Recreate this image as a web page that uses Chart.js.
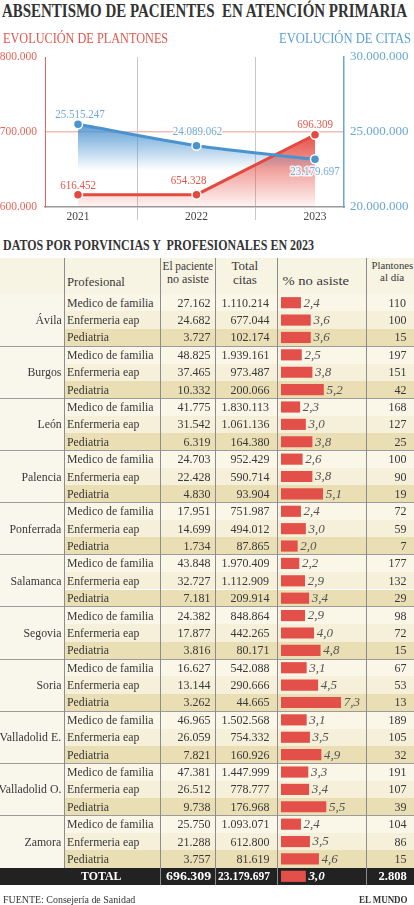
<!DOCTYPE html>
<html lang="es">
<head>
<meta charset="utf-8">
<title>Absentismo de pacientes en atención primaria</title>
<script src="https://cdn.jsdelivr.net/npm/chart.js@4.4.1/dist/chart.umd.min.js"></script>
<style>
  html, body { margin: 0; padding: 0; background: #fff; }
  #page { position: relative; width: 414px; height: 905px; overflow: hidden; font-family: "Liberation Serif", serif; color: #333; }
  .t { position: absolute; white-space: pre; z-index: 3; }
  .b { position: absolute; }
  canvas { position: absolute; z-index: 2; }
</style>
</head>
<body>
<div id="page">
  <canvas id="evolucion" width="414" height="190" style="left:0;top:40px"></canvas>
  <canvas id="barras" width="89" height="591" style="left:277px;top:294px"></canvas>
</div>
<script>
// Evolución 2021-2023
const years = [2021, 2022, 2023];
const plantones = [616452, 654328, 696309];
// en el original el punto de 2022 está dibujado a la altura de 2021
const plantonesPlot = [616452, 616452, 696309];
const citas = [25515247, 24089062, 23179697];
const ticksPlantones = [600000, 700000, 800000];
const ticksCitas = [20000000, 25000000, 30000000];

// Datos por provincias y profesionales (2023)
const provincias = ['Ávila', 'Burgos', 'León', 'Palencia', 'Ponferrada', 'Salamanca', 'Segovia', 'Soria', 'Valladolid E.', 'Valladolid O.', 'Zamora'];
const profesionales = ['Medico de familia', 'Enfermeria eap', 'Pediatria'];
const noAsiste = [27162, 24682, 3727, 48825, 37465, 10332, 41775, 31542, 6319, 24703, 22428, 4830,
  17951, 14699, 1734, 43848, 32727, 7181, 24382, 17877, 3816, 16627, 13144, 3262,
  46965, 26059, 7821, 47381, 26512, 9738, 25750, 21288, 3757];
const totalCitas = [1110214, 677044, 102174, 1939161, 973487, 200066, 1830113, 1061136, 164380, 952429, 590714, 93904,
  751987, 494012, 87865, 1970409, 1112909, 209914, 848864, 442265, 80171, 542088, 290666, 44665,
  1502568, 754332, 160926, 1447999, 778777, 176968, 1093071, 612800, 81619];
const pctNoAsiste = [2.4, 3.6, 3.6, 2.5, 3.8, 5.2, 2.3, 3.0, 3.8, 2.6, 3.8, 5.1,
  2.4, 3.0, 2.0, 2.2, 2.9, 3.4, 2.9, 4.0, 4.8, 3.1, 4.5, 7.3,
  3.1, 3.5, 4.9, 3.3, 3.4, 5.5, 2.4, 3.5, 4.6];
const plantonesDia = [110, 100, 15, 197, 151, 42, 168, 127, 25, 100, 90, 19,
  72, 59, 7, 177, 132, 29, 98, 72, 15, 67, 53, 13,
  189, 105, 32, 191, 107, 39, 104, 86, 15];
const totalNoAsiste = 696309;
const totalCitasSum = 23179697;
const totalPct = 3.0;
const totalPlantones = 2808;

const FONT = '"Liberation Serif", serif';
const fmt = n => String(n).replace(/\B(?=(\d{3})+(?!\d))/g, '.');
const dec = v => v.toFixed(1).replace('.', ',');

const page = document.getElementById('page');

function rect(x, y, w, h, bg, z) {
  const d = document.createElement('div');
  d.className = 'b';
  Object.assign(d.style, { left: x + 'px', top: y + 'px', width: w + 'px', height: h + 'px', background: bg, zIndex: z || 0 });
  page.appendChild(d);
}

// y = centro vertical
function text(str, x, y, o = {}) {
  const d = document.createElement('div');
  d.className = 't';
  d.textContent = str;
  const size = o.size || 12;
  d.style.font = `${o.style || 'normal'} ${o.weight || 'normal'} ${size}px ${FONT}`;
  d.style.lineHeight = Math.round(size * 1.2) + 'px';
  d.style.color = o.color || '#383838';
  page.appendChild(d);
  const w = d.offsetWidth, h = d.offsetHeight;
  const align = o.align || 'left';
  const left = align === 'left' ? x : align === 'right' ? x - w : x - w / 2;
  d.style.left = left + 'px';
  d.style.top = (y - h / 2) + 'px';
  const s = o.fit ? o.fit / w : 1;
  if (s !== 1) {
    d.style.transform = `scaleX(${s})`;
    d.style.transformOrigin = align === 'left' ? 'left center' : align === 'right' ? 'right center' : 'center center';
  }
}

// Títulos
text('ABSENTISMO DE PACIENTES  EN ATENCIÓN PRIMARIA', 2, 11, { size: 18.5, weight: 'bold', fit: 405, color: '#333' });
text('EVOLUCIÓN DE PLANTONES', 3, 38, { size: 15, fit: 165, color: '#e2554b' });
text('EVOLUCIÓN DE CITAS', 411, 38, { size: 15, fit: 132, align: 'right', color: '#5a9fd6' });
text('DATOS POR PORVINCIAS Y  PROFESIONALES EN 2023', 3, 245, { size: 14, weight: 'bold', fit: 311, color: '#333' });

// Tabla
const TOP = 294, HEAD = 258, ROWH = 591 / 34;
const nRows = provincias.length * profesionales.length;
const rowBg = ['#faf6e8', '#f6f0da', '#eadfb4'];
const bottomRows = TOP + nRows * ROWH;

rect(0, HEAD, 414, TOP - HEAD, '#f8f4e3');
rect(0, TOP, 64, nRows * ROWH, '#f9f6eb');
for (let i = 0; i < nRows; i++) rect(64, TOP + i * ROWH, 350, ROWH, rowBg[i % 3]);
rect(0, bottomRows, 414, ROWH, '#222');

for (let g = 1; g < provincias.length; g++) rect(0, TOP + g * 3 * ROWH - 0.5, 414, 1, '#9c9c9c', 1);
rect(64, HEAD, 1, bottomRows - HEAD, '#8c8c8c', 1);
[160, 215, 277, 366].forEach(x => rect(x, HEAD, 1, bottomRows + ROWH - HEAD, '#8c8c8c', 1));

// cabecera
text('Profesional', 67, 282, { size: 12.7 });
text('El paciente', 187.5, 265.5, { size: 11.5, align: 'center', fit: 50 });
text('no asiste', 187.5, 278.5, { size: 11.5, align: 'center', fit: 42 });
text('Total', 245, 266, { size: 13, align: 'center' });
text('citas', 245, 280, { size: 13, align: 'center' });
text('% no asiste', 316, 281, { size: 13.5, align: 'center', fit: 67 });
text('Plantones', 392, 265.5, { size: 11, align: 'center', fit: 42 });
text('al día', 392, 277.5, { size: 11, align: 'center' });

for (let i = 0; i < nRows; i++) {
  const yc = TOP + (i + 0.5) * ROWH;
  if (i % 3 === 1) text(provincias[(i - 1) / 3], 61.5, yc, { size: 11.8, align: 'right' });
  text(profesionales[i % 3], 67, yc, { size: 11.8 });
  text(fmt(noAsiste[i]), 210.5, yc, { size: 12, align: 'right' });
  text(fmt(totalCitas[i]), 269.5, yc, { size: 12, align: 'right' });
  text(fmt(plantonesDia[i]), 406.5, yc, { size: 12, align: 'right' });
}
const yTot = bottomRows + ROWH / 2;
text('TOTAL', 100.5, yTot, { size: 13, weight: 'bold', align: 'center', fit: 40, color: '#fff' });
text(fmt(totalNoAsiste), 210.5, yTot, { size: 13, weight: 'bold', align: 'right', fit: 45, color: '#fff' });
text(fmt(totalCitasSum), 269.5, yTot, { size: 12, weight: 'bold', align: 'right', fit: 52, color: '#fff' });
text(fmt(totalPlantones), 406.5, yTot, { size: 12.5, weight: 'bold', align: 'right', color: '#fff' });

// Pie
text('FUENTE: Consejería de Sanidad', 3, 899, { size: 11, fit: 132, color: '#333' });
text('EL MUNDO', 408, 899, { size: 11, weight: 'bold', align: 'right', fit: 49, color: '#333' });

// Gráfico de evolución
const colRojo = '#e4493f', colAzul = '#4a93cf';
const etiquetas = [citas.map(fmt), plantones.map(fmt)];
const coloresEtiqueta = ['#72aadb', '#e4574c'];
const desplaz = [[[2, -10], [1, -14], [0, 12]], [[0, -9], [-8, -14], [0, -10]]];

function degradado(chart, scaleId, valueTop, rgb, a0, a1, alto) {
  const area = chart.chartArea;
  if (!area || !chart.scales[scaleId]) return 'rgba(0,0,0,0)';
  const top = chart.scales[scaleId].getPixelForValue(valueTop);
  const bottom = alto ? top + alto : area.bottom;
  const g = chart.ctx.createLinearGradient(0, top, 0, bottom);
  g.addColorStop(0, `rgba(${rgb},${a0})`);
  g.addColorStop(1, `rgba(${rgb},${a1})`);
  return g;
}

const etiquetasLinea = {
  id: 'etiquetasLinea',
  afterDatasetsDraw(chart) {
    const ctx = chart.ctx;
    ctx.save();
    ctx.font = '12.5px ' + FONT;
    ctx.textAlign = 'center';
    ctx.textBaseline = 'middle';
    ctx.lineJoin = 'round';
    chart.data.datasets.forEach((ds, d) => {
      chart.getDatasetMeta(d).data.forEach((pt, i) => {
        const t = etiquetas[d][i];
        const [dx, dy] = desplaz[d][i];
        const w = ctx.measureText(t).width * 0.88;
        ctx.lineWidth = 3;
        ctx.strokeStyle = 'rgba(255,255,255,0.85)';
        ctx.strokeText(t, pt.x + dx, pt.y + dy, w);
        ctx.fillStyle = coloresEtiqueta[d];
        ctx.fillText(t, pt.x + dx, pt.y + dy, w);
      });
    });
    ctx.restore();
  }
};

const xTicks = [2021, 2021.5, 2022, 2022.5, 2023];

new Chart(document.getElementById('evolucion'), {
  type: 'line',
  data: {
    datasets: [{
      label: 'Citas',
      data: years.map((x, i) => ({ x, y: citas[i] })),
      yAxisID: 'yCitas',
      borderColor: colAzul,
      borderWidth: 3,
      tension: 0.25,
      pointRadius: 4.5,
      pointBackgroundColor: colAzul,
      pointBorderColor: '#fff',
      pointBorderWidth: 1.5,
      fill: 'start',
      backgroundColor: c => degradado(c.chart, 'yCitas', Math.max(...citas), '74,147,207', 0.9, 0, 46)
    }, {
      label: 'Plantones',
      data: years.map((x, i) => ({ x, y: plantonesPlot[i] })),
      yAxisID: 'yPlantones',
      borderColor: colRojo,
      borderWidth: 3,
      tension: 0,
      pointRadius: 4.5,
      pointBackgroundColor: colRojo,
      pointBorderColor: '#fff',
      pointBorderWidth: 1.5,
      fill: 'start',
      backgroundColor: c => degradado(c.chart, 'yPlantones', Math.max(...plantonesPlot), '228,73,63', 0.95, 0.05)
    }]
  },
  options: {
    responsive: false,
    animation: false,
    layout: { padding: { top: 17, left: 0, right: 0, bottom: 0 } },
    plugins: {
      legend: { display: false },
      tooltip: { enabled: false },
      filler: { drawTime: 'beforeDatasetsDraw' }
    },
    scales: {
      x: {
        type: 'linear',
        min: 2020.7215,
        max: 2023.2447,
        afterBuildTicks: s => { s.ticks = xTicks.map(v => ({ value: v })); },
        afterFit: s => { s.height = 23; },
        ticks: {
          callback: v => Number.isInteger(v) ? String(v) : '',
          color: '#444',
          font: { family: FONT, size: 11.5 },
          padding: -10,
          autoSkip: false,
          maxRotation: 0
        },
        grid: {
          color: c => (c.tick && !Number.isInteger(c.tick.value)) ? '#c8c8c8' : 'rgba(0,0,0,0)',
          tickLength: 13
        },
        border: { color: '#9a9a9a', width: 1.5 }
      },
      yPlantones: {
        position: 'left',
        min: ticksPlantones[0],
        max: ticksPlantones[2],
        afterBuildTicks: s => { s.ticks = ticksPlantones.map(v => ({ value: v })); },
        afterFit: s => { s.width = 45; },
        ticks: { callback: v => fmt(v), color: '#e8665c', font: { family: FONT, size: 11.5 }, padding: 8 },
        grid: {
          color: c => (c.tick && c.tick.value === ticksPlantones[1]) ? '#f3bdb5' : 'rgba(0,0,0,0)',
          lineWidth: 1.5,
          drawTicks: false
        },
        border: { color: '#e8665c', width: 1 }
      },
      yCitas: {
        position: 'right',
        min: ticksCitas[0],
        max: ticksCitas[2],
        afterBuildTicks: s => { s.ticks = ticksCitas.map(v => ({ value: v })); },
        afterFit: s => { s.width = 70; },
        ticks: { callback: v => fmt(v), color: '#6aa7d8', font: { family: FONT, size: 13 }, padding: 6 },
        grid: { display: false, drawTicks: false },
        border: { color: '#6aa7d8', width: 1.5 }
      }
    }
  },
  plugins: [etiquetasLinea]
});

// Barras de % no asiste
const filas = provincias.flatMap(p => profesionales.map(pr => p + ' · ' + pr)).concat('TOTAL');
const pctFilas = pctNoAsiste.concat(totalPct);

const etiquetasBarras = {
  id: 'etiquetasBarras',
  afterDatasetsDraw(chart) {
    const ctx = chart.ctx;
    const vals = chart.data.datasets[0].data;
    ctx.save();
    ctx.textBaseline = 'middle';
    chart.getDatasetMeta(0).data.forEach((bar, i) => {
      const last = i === vals.length - 1;
      ctx.font = (last ? 'italic bold ' : 'italic ') + '13px ' + FONT;
      ctx.fillStyle = last ? '#fff' : '#555';
      ctx.fillText(dec(vals[i]), bar.x + 3, bar.y + 0.5);
    });
    ctx.restore();
  }
};

new Chart(document.getElementById('barras'), {
  type: 'bar',
  data: {
    labels: filas,
    datasets: [{ data: pctFilas, backgroundColor: '#e3504a', barThickness: 10.5, borderWidth: 0 }]
  },
  options: {
    indexAxis: 'y',
    responsive: false,
    animation: false,
    layout: { padding: { left: 4, right: 0, top: 0, bottom: 0 } },
    plugins: { legend: { display: false }, tooltip: { enabled: false } },
    scales: {
      x: { display: false, min: 0, max: 10.4 },
      y: { display: false }
    }
  },
  plugins: [etiquetasBarras]
});
</script>
</body>
</html>
